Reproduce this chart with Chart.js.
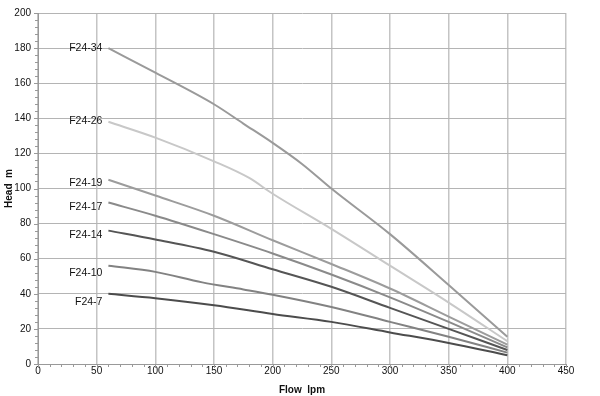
<!DOCTYPE html>
<html>
<head>
<meta charset="utf-8">
<script src="https://cdn.jsdelivr.net/npm/chart.js@4/dist/chart.umd.min.js"></script>
<style>
html,body{margin:0;padding:0;background:#fff;}
#wrap{width:600px;height:396px;}
</style>
</head>
<body>
<div id="wrap"><canvas id="c" width="600" height="396"></canvas></div>
<script>
// ---- data ----
const seriesNames = ['F24-34','F24-26','F24-19','F24-17','F24-14','F24-10','F24-7'];

const flow34 = [60,100,150,175,200,225,250,300,350,400];
const head34 = [180,166,148,137,126,114,100,74,45,15.5];

const flow26 = [60,100,150,180,200,250,300,350,400];
const head26 = [138,129,115.5,106,97,77,56,35,13];

const flow19 = [60,100,150,200,250,300,350,400];
const head19 = [105,96,84.5,70.5,57,43,27,11];

const flow17 = [60,100,150,200,250,300,350,400];
const head17 = [92,84.5,74,63,51,38,24,9.5];

const flow14 = [60,100,150,200,250,300,350,400];
const head14 = [76,71,64,54,44,32,20,8];

const flow10 = [60,100,140,175,200,250,300,350,400];
const head10 = [56,52.5,46.5,42.5,39.5,32.5,24,15.5,6.5];

const flow7 = [60,100,150,200,250,300,350,400];
const head7 = [40,37.5,33.5,28.5,24,18,12,5];

const xTickStep = 50, xMax = 450;
const yTickStep = 20, yMax = 200;
const xTitle = 'Flow  lpm';
const yTitle = 'Head  m';

// ---- styling ----
const lineColors = ['#9a9a9a','#c8c8c8','#9c9c9c','#8a8a8a','#555555','#828282','#4c4c4c'];
const labelDy = [0,-1,3.5,5,4.5,7.5,8];

const allFlows = [flow34,flow26,flow19,flow17,flow14,flow10,flow7];
const allHeads = [head34,head26,head19,head17,head14,head10,head7];

const datasets = seriesNames.map((n,i)=>({
  label:n,
  data: allFlows[i].map((x,j)=>({x:x,y:allHeads[i][j]})),
  borderColor: lineColors[i],
  borderWidth: 2,
  pointRadius: 0,
  fill:false,
  cubicInterpolationMode:'monotone'
}));

const FONT = '"Liberation Sans Narrow","Liberation Sans",Arial,sans-serif';

const extras = {
  id:'extras',
  afterDraw(chart){
    const ctx = chart.ctx;
    const xs = chart.scales.x, ys = chart.scales.y;
    const area = chart.chartArea;
    ctx.save();
    // minor ticks
    ctx.strokeStyle = '#999';
    ctx.lineWidth = 1;
    ctx.beginPath();
    for(let v=0; v<=xMax; v+=10){
      const px = Math.round(xs.getPixelForValue(v))+0.5;
      ctx.moveTo(px, area.bottom); ctx.lineTo(px, area.bottom+ (v%xTickStep===0?4:3));
    }
    for(let v=0; v<=yMax; v+=4){
      const py = Math.round(ys.getPixelForValue(v))+0.5;
      ctx.moveTo(area.left, py); ctx.lineTo(area.left-(v%yTickStep===0?4:3), py);
    }
    ctx.stroke();
    // series labels
    ctx.fillStyle = '#111';
    ctx.font = '10.5px '+FONT;
    ctx.textAlign = 'right';
    ctx.textBaseline = 'middle';
    chart.data.datasets.forEach((ds,i)=>{
      const p = ds.data[0];
      ctx.fillText(ds.label, xs.getPixelForValue(p.x)-6, ys.getPixelForValue(p.y)+labelDy[i]);
    });
    ctx.restore();
  }
};

new Chart(document.getElementById('c'), {
  type:'line',
  data:{datasets:datasets},
  plugins:[extras],
  options:{
    responsive:false,
    animation:false,
    events:[],
    layout:{padding:{top:7,right:34,left:3,bottom:0}},
    plugins:{legend:{display:false},tooltip:{enabled:false}},
    scales:{
      x:{
        type:'linear', min:0, max:xMax,
        ticks:{stepSize:xTickStep, color:'#111', font:{family:FONT,size:10}, padding:1, maxRotation:0},
        grid:{color:'#c4c4c4', lineWidth:1.5, drawTicks:false, tickLength:4},
        border:{color:'#999', width:1},
        title:{display:true, text:xTitle, color:'#111', font:{family:FONT,size:10,weight:'bold'}, padding:{top:1,bottom:0}},
        afterFit(s){ s.height = 32; }
      },
      y:{
        type:'linear', min:0, max:yMax,
        ticks:{stepSize:yTickStep, color:'#111', font:{family:FONT,size:10}, padding:7},
        grid:{color:'#b4b4b4', lineWidth:1, drawTicks:false},
        border:{color:'#999', width:1},
        title:{display:true, text:yTitle, color:'#111', font:{family:FONT,size:10,weight:'bold'}, padding:{top:0,bottom:2}},
        afterFit(s){ s.width = 35; }
      }
    }
  }
});
</script>
</body>
</html>
